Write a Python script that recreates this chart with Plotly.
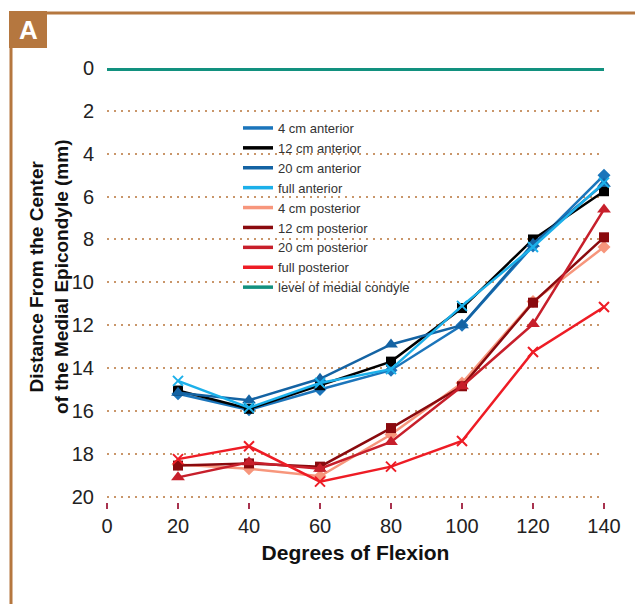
import plotly.graph_objects as go

flexion = [20, 40, 60, 80, 100, 120, 140]
series_names = ["4 cm anterior", "12 cm anterior", "20 cm anterior", "full anterior",
                "4 cm posterior", "12 cm posterior", "20 cm posterior", "full posterior"]
ant_4 = [15.2, 15.95, 15.0, 14.1, 12.0, 8.3, 5.0]
ant_12 = [15.05, 15.9, 14.8, 13.7, 11.2, 8.0, 5.75]
ant_20 = [15.15, 15.5, 14.5, 12.9, 12.0, 8.2, 5.4]
ant_full = [14.6, 15.85, 14.7, 14.05, 11.1, 8.35, 5.35]
post_4 = [18.5, 18.7, 19.05, 17.1, 14.7, 10.9, 8.35]
post_12 = [18.55, 18.45, 18.6, 16.8, 14.85, 10.95, 7.9]
post_20 = [19.1, 18.4, 18.7, 17.45, 14.85, 11.95, 6.6]
post_full = [18.25, 17.65, 19.3, 18.6, 17.4, 13.25, 11.15]
condyle_x = [0, 140]
condyle_y = [0, 0]
condyle_name = "level of medial condyle"
x_ticks = [0, 20, 40, 60, 80, 100, 120, 140]
y_ticks = [0, 2, 4, 6, 8, 10, 12, 14, 16, 18, 20]
x_title = "Degrees of Flexion"
y_title = "Distance From the Center<br>of the Medial Epicondyle (mm)"

values = [ant_4, ant_12, ant_20, ant_full, post_4, post_12, post_20, post_full]
colors = ["#1b75bb", "#000000", "#1463a3", "#1cb0ea",
          "#f7967c", "#8a0a0e", "#c71f2b", "#ee1c25"]
symbols = ["diamond", "square", "triangle-up", "x-thin",
           "diamond", "square", "triangle-up", "x-thin"]
sizes = [10, 10, 12, 10, 10, 10, 12, 10]
teal = "#12917f"
brown = "#b5773f"

fig = go.Figure()

fig.add_trace(go.Scatter(x=condyle_x, y=condyle_y, mode="lines",
                         line=dict(color=teal, width=6), showlegend=False,
                         cliponaxis=False, hoverinfo="skip"))

for name, ys, c, s, sz in zip(series_names, values, colors, symbols, sizes):
    fig.add_trace(go.Scatter(
        x=flexion, y=ys, mode="lines+markers", name=name, showlegend=False,
        line=dict(color=c, width=2.5),
        marker=dict(symbol=s, size=sz, color=c, line=dict(color=c, width=2 if s == "x-thin" else 0)),
        cliponaxis=False))

# legend-only entries (lines only, like the reference)
for name, c in zip(series_names + [condyle_name], colors + [teal]):
    fig.add_trace(go.Scatter(x=[None], y=[None], mode="lines", name=name,
                             line=dict(color=c, width=3.5)))

# page body has an 8px margin: figure coordinates = screen coordinates - 8
OFF = 8
W, H = 635, 596
L, R, T, B = 107 - OFF, 39, 68 - OFF, 102
pw, ph = W - L - R, H - T - B

def px(xs):
    return (xs - OFF - L) / pw

def py(ys):
    return (H - B - (ys - OFF)) / ph

fig.add_shape(type="line", xref="paper", yref="paper", x0=px(11), x1=px(660), y0=py(13), y1=py(13),
              line=dict(color=brown, width=3))
fig.add_shape(type="line", xref="paper", yref="paper", x0=px(11), x1=px(11), y0=py(11), y1=py(620),
              line=dict(color=brown, width=3))
fig.add_shape(type="rect", xref="paper", yref="paper", x0=px(9), x1=px(47), y0=py(11), y1=py(48),
              fillcolor=brown, line=dict(width=0))
fig.add_annotation(text="<b>A</b>", xref="paper", yref="paper", x=px(28), y=py(30),
                   showarrow=False, font=dict(family="Liberation Sans", size=26, color="white"),
                   xanchor="center", yanchor="middle")
fig.add_annotation(text="<b>" + y_title + "</b>", xref="paper", yref="paper",
                   x=px(49), y=py(277), textangle=-90, showarrow=False,
                   xanchor="center", yanchor="middle",
                   font=dict(family="Liberation Sans", size=19, color="#111"))

fig.update_layout(
    width=W, height=H,
    margin=dict(l=L, r=R, t=T, b=B),
    paper_bgcolor="white", plot_bgcolor="white",
    font=dict(family="Liberation Sans", color="#222"),
    legend=dict(x=px(238), y=py(113), xanchor="left", yanchor="top",
                bgcolor="rgba(0,0,0,0)", font=dict(size=13, color="#333"),
                tracegroupgap=0, itemwidth=30),
    xaxis=dict(range=[0, 140], tickvals=x_ticks, showgrid=False, zeroline=False,
               showline=False, ticks="outside", ticklen=6, tickwidth=1.5,
               tickcolor="#a8334f", tickfont=dict(size=20, color="#222"),
               title=dict(text="<b>" + x_title + "</b>", font=dict(size=21, color="#111"),
                          standoff=9)),
    yaxis=dict(range=[20.25, 0], tickvals=y_ticks, showgrid=True, gridcolor="#c9966a",
               gridwidth=2, griddash="2px,5px", zeroline=False, showline=False,
               ticks="outside", ticklen=8, tickcolor="rgba(0,0,0,0)",
               tickfont=dict(size=20, color="#222")),
)

fig.write_html("out.html")
